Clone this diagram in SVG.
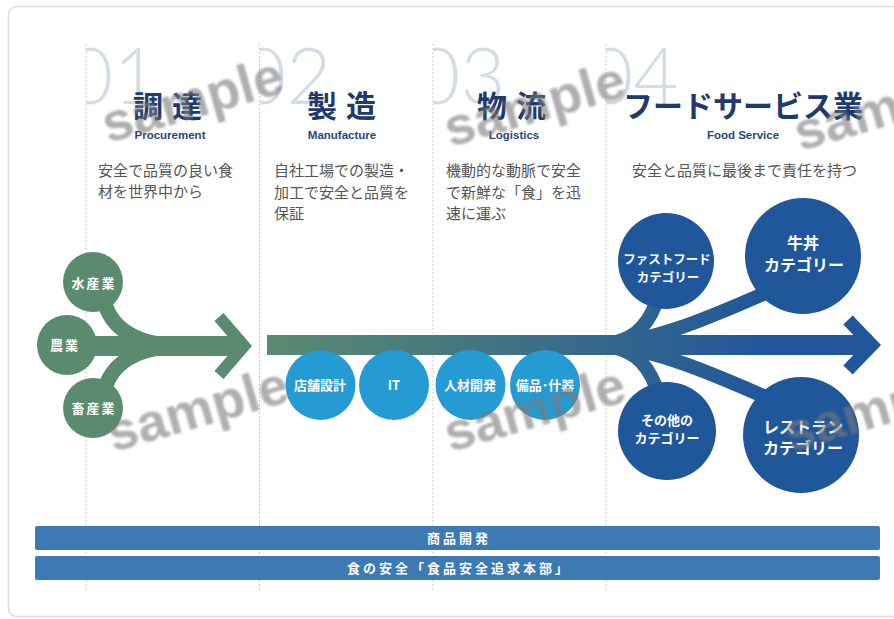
<svg xmlns="http://www.w3.org/2000/svg" width="894" height="619" viewBox="0 0 894 619">
<defs>
<linearGradient id="flow" gradientUnits="userSpaceOnUse" x1="267" y1="0" x2="760" y2="0">
<stop offset="0" stop-color="#5b8b6f"/>
<stop offset="1" stop-color="#21579a"/>
</linearGradient>
<clipPath id="c1"><rect x="86" y="30" width="173" height="100"/></clipPath>
<clipPath id="c2"><rect x="260" y="30" width="173" height="100"/></clipPath>
<clipPath id="c3"><rect x="433" y="30" width="173" height="100"/></clipPath>
<clipPath id="c4"><rect x="606" y="30" width="200" height="100"/></clipPath>
<filter id="wmblur" x="-10%" y="-30%" width="120%" height="160%"><feGaussianBlur stdDeviation="0.9"/></filter>
</defs>
<style>
.num{font-family:Lato,"Open Sans",sans-serif;font-weight:300;font-size:78px;fill:#d4dde7}
.ttl{font-family:"Noto Sans CJK JP",sans-serif;font-weight:700;font-size:30px;fill:#1f3a6b;text-anchor:middle}
.en{font-family:"Liberation Sans",Arial,sans-serif;font-weight:700;font-size:11.5px;fill:#2a4677;text-anchor:middle}
.desc{font-family:"Noto Sans CJK JP",sans-serif;font-size:15px;fill:#555}
.div{stroke:#bdbdbd;stroke-width:1;stroke-dasharray:1.5 2.5}
.g{fill:#5b8b6f}
.gs{fill:none;stroke:#5b8b6f}
.fs{fill:none;stroke:url(#flow)}
.lb{fill:#259bd4}
.db{fill:#20579a}
.ct{font-family:"Noto Sans CJK JP",sans-serif;font-weight:700;fill:#fff;text-anchor:middle}
.bar{fill:#3d7ab3}
.bt{font-family:"Noto Sans CJK JP",sans-serif;font-weight:700;font-size:13px;fill:#fff;text-anchor:middle;letter-spacing:3px}
.wm{font-family:"Liberation Sans",Arial,sans-serif;font-weight:700;font-size:54px;fill:#7a7a7a;opacity:.6}
</style>

<rect x="8.5" y="6.5" width="900" height="610" rx="8" fill="#fff" stroke="#dcdcdc" stroke-width="1.5"/>

<g id="dividers">
<line class="div" x1="86" y1="44" x2="86" y2="590"/>
<line class="div" x1="259.5" y1="44" x2="259.5" y2="590"/>
<line class="div" x1="433" y1="44" x2="433" y2="590"/>
<line class="div" x1="606" y1="44" x2="606" y2="590"/>
</g>

<g id="col1">
<text class="num" x="68" y="104" clip-path="url(#c1)">01</text>
<text class="ttl" x="172" y="117" letter-spacing="9">調達</text>
<text class="en" x="170" y="139">Procurement</text>
<text class="desc" x="98" y="176">安全で品質の良い食</text>
<text class="desc" x="98" y="197">材を世界中から</text>
</g>
<g id="col2">
<text class="num" x="241" y="104" clip-path="url(#c2)">02</text>
<text class="ttl" x="346" y="117" letter-spacing="9">製造</text>
<text class="en" x="342" y="139">Manufacture</text>
<text class="desc" x="274" y="176">自社工場での製造・</text>
<text class="desc" x="274" y="197.5">加工で安全と品質を</text>
<text class="desc" x="274" y="219">保証</text>
</g>
<g id="col3">
<text class="num" x="415" y="104" clip-path="url(#c3)">03</text>
<text class="ttl" x="516" y="117" letter-spacing="9">物流</text>
<text class="en" x="514" y="139">Logistics</text>
<text class="desc" x="446" y="176">機動的な動脈で安全</text>
<text class="desc" x="446" y="197.5">で新鮮な「食」を迅</text>
<text class="desc" x="446" y="219">速に運ぶ</text>
</g>
<g id="col4">
<text class="num" x="588" y="104" clip-path="url(#c4)">04</text>
<text class="ttl" x="743" y="117">フードサービス業</text>
<text class="en" x="743" y="139">Food Service</text>
<text class="desc" x="632" y="176">安全と品質に最後まで責任を持つ</text>
</g>

<g id="connectors">
<path class="gs" stroke-width="15" d="M104 300 C110 326 132 344 178 346"/>
<path class="gs" stroke-width="15" d="M104 392 C110 366 132 348 178 346"/>
<rect class="g" x="90" y="336" width="154" height="20"/>
<polyline class="gs" stroke-width="12" stroke-linejoin="miter" points="219,317 244,346 219,375"/>
<rect x="267" y="335" width="605" height="20" fill="url(#flow)"/>
<path class="fs" stroke-width="14" d="M600 345 C630 342 646 330 656 303"/>
<path class="fs" stroke-width="14" d="M600 345 C650 342 700 322 770 291"/>
<path class="fs" stroke-width="14" d="M600 345 C630 348 646 360 656 387"/>
<path class="fs" stroke-width="14" d="M600 345 C650 348 700 368 770 399"/>
<polyline fill="none" stroke="#21579a" stroke-width="13" stroke-linejoin="miter" points="848,320 872,345 848,370"/>
</g>

<g id="n-suisan"><circle class="g" cx="93" cy="282" r="30"/><text class="ct" font-size="13" letter-spacing="2" x="94" y="288">水産業</text></g>
<g id="n-nougyou"><circle class="g" cx="67" cy="345" r="30"/><text class="ct" font-size="13" letter-spacing="2" x="65" y="350">農業</text></g>
<g id="n-chikusan"><circle class="g" cx="93" cy="408" r="30"/><text class="ct" font-size="13" letter-spacing="2" x="94" y="413">畜産業</text></g>

<g id="n-tenpo"><circle class="lb" cx="320.5" cy="385" r="35"/><text class="ct" font-size="13" x="320" y="390">店舗設計</text></g>
<g id="n-it"><circle class="lb" cx="394" cy="385" r="35"/><text class="ct" font-size="13" x="394" y="390">IT</text></g>
<g id="n-jinzai"><circle class="lb" cx="470.5" cy="385" r="35"/><text class="ct" font-size="13" x="470" y="390">人材開発</text></g>
<g id="n-bihin"><circle class="lb" cx="545" cy="385" r="35"/><text class="ct" font-size="13" x="545" y="390">備品･什器</text></g>

<g id="n-fastfood"><circle class="db" cx="666" cy="261" r="48"/><text class="ct" font-size="12.5" x="667" y="263.5">ファストフード</text><text class="ct" font-size="12.5" x="668" y="281.5">カテゴリー</text></g>
<g id="n-gyudon"><circle class="db" cx="803" cy="256" r="58"/><text class="ct" font-size="16" x="803" y="249">牛丼</text><text class="ct" font-size="16" x="804" y="271">カテゴリー</text></g>
<g id="n-sonota"><circle class="db" cx="667" cy="431" r="49"/><text class="ct" font-size="13" x="667" y="425">その他の</text><text class="ct" font-size="13" x="667" y="443">カテゴリー</text></g>
<g id="n-restaurant"><circle class="db" cx="801" cy="435" r="58"/><text class="ct" font-size="16" x="803" y="433">レストラン</text><text class="ct" font-size="16" x="803" y="454">カテゴリー</text></g>

<g id="bar-shouhin"><rect class="bar" x="35" y="526" width="845" height="24" rx="2"/><text class="bt" x="459" y="543">商品開発</text></g>
<g id="bar-anzen"><rect class="bar" x="35" y="556" width="845" height="24" rx="2"/><text class="bt" x="459" y="573">食の安全「食品安全追求本部」</text></g>

<g id="watermarks" filter="url(#wmblur)">
<text class="wm" x="108" y="143" transform="rotate(-16 108 143)">sample</text>
<text class="wm" x="450" y="147" transform="rotate(-16 450 147)">sample</text>
<text class="wm" x="800" y="151" transform="rotate(-16 800 151)">sample</text>
<text class="wm" x="113" y="452" transform="rotate(-16 113 452)">sample</text>
<text class="wm" x="450" y="452" transform="rotate(-16 450 452)">sample</text>
<text class="wm" x="790" y="452" transform="rotate(-16 790 452)">sample</text>
</g>
</svg>
